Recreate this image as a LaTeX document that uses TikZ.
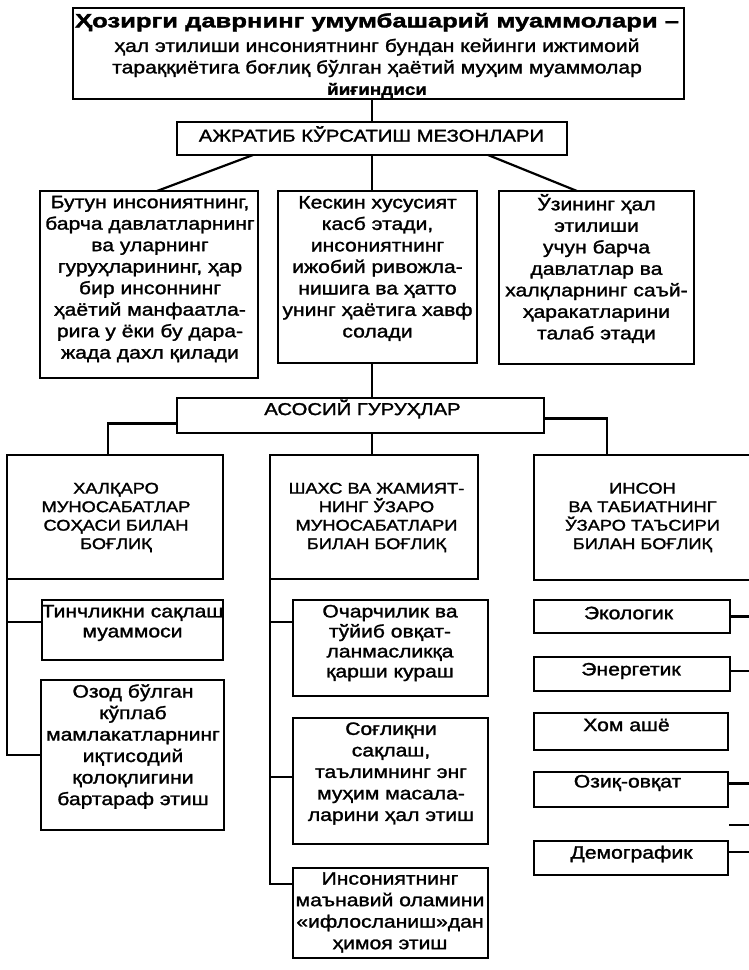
\documentclass[tikz,border=0pt]{standalone}
\usepackage{fontspec}
\setmainfont{Liberation Sans}[FakeStretch=1.18,FakeBold=1.5]
\newfontfamily\titlefont{Liberation Sans}[FakeStretch=1.32,FakeBold=1.8]
\newcommand\bodyfont{\fontsize{17.9pt}{21.5pt}\selectfont}
\newcommand\smallbody{\fontsize{17.9pt}{20pt}\selectfont}
\newcommand\capfont{\fontsize{17.2pt}{20pt}\selectfont}
\newcommand\grpfont{\fontsize{15.5pt}{18.5pt}\selectfont}
\newcommand\mybox[5]{\node[box, minimum width={(#4-#2)*1pt}, minimum height={(#5-#3)*1pt}] (#1) at ({(#2+#4)/2},{(#3+#5)/2}) {};}
\begin{document}
\begin{tikzpicture}[x=1pt,y=-1pt,
  box/.style={draw,line width=2.2pt,inner sep=0pt,outer sep=0pt},
  txt/.style={align=center,inner sep=0pt,font=\bodyfont},
  captxt/.style={align=center,inner sep=0pt,font=\capfont},
  grptxt/.style={align=center,inner sep=0pt,font=\grpfont},
  conn/.style={line width=2.2pt}]
\useasboundingbox (0,0) rectangle (749,970);
\fill[white] (0,0) rectangle (749,970);
\clip (0,0) rectangle (749,970);
% boxes
\mybox{top}{73}{8}{684}{99}
\mybox{b2}{177}{122}{567}{155}
\mybox{lb}{40}{191}{258}{378}
\mybox{mb}{278}{191}{477}{363}
\mybox{rb}{499}{191}{694}{364}
\mybox{as}{177}{398}{544}{433}
\mybox{g1}{7}{455}{223}{579}
\mybox{g2}{270}{455}{478}{579}
\mybox{g3}{534}{455}{770}{580}
\mybox{l1}{42}{600}{223}{660}
\mybox{l2}{41}{680}{224}{830}
\mybox{m1}{293}{600}{488}{696}
\mybox{m2}{293}{718}{488}{844}
\mybox{m3}{293}{868}{488}{958}
\mybox{r1}{534}{600}{730}{633}
\mybox{r2}{534}{657}{730}{691}
\mybox{r3}{534}{713}{728}{750}
\mybox{r4}{534}{772}{728}{807}
\mybox{r5}{534}{841}{728}{875}
% texts
\node[txt] (ttl) at (377,55.5) {{\titlefont\bfseries\fontsize{19.4pt}{23pt}\selectfont Ҳозирги даврнинг умумбашарий муаммолари –}\\[3pt]
ҳал этилиши инсониятнинг бундан кейинги ижтимоий\\
тараққиётига боғлиқ бўлган ҳаётий муҳим муаммолар\\
{\bfseries\fontsize{16pt}{20pt}\selectfont йиғиндиси}};
\node[captxt] (b2t) at (371.5,134) {АЖРАТИБ КЎРСАТИШ МЕЗОНЛАРИ};
\node[txt] (lbt) at (150,279) {Бутун инсониятнинг,\\барча давлатларнинг\\ва уларнинг\\гуруҳларининг, ҳар\\бир инсоннинг\\ҳаётий манфаатла-\\рига у ёки бу дара-\\жада дахл қилади};
\node[txt] (mbt) at (377.5,268.5) {Кескин хусусият\\касб этади,\\инсониятнинг\\ижобий ривожла-\\нишига ва ҳатто\\унинг ҳаётига хавф\\солади};
\node[txt] (rbt) at (596.5,268.5) {Ўзининг ҳал\\этилиши\\учун барча\\давлатлар ва\\халқларнинг саъй-\\ҳаракатларини\\талаб этади};
\node[captxt] (ast) at (362.5,409) {АСОСИЙ ГУРУҲЛАР};
\node[grptxt] (g1t) at (116,517.5) {ХАЛҚАРО\\МУНОСАБАТЛАР\\СОҲАСИ БИЛАН\\БОҒЛИҚ};
\node[grptxt] (g2t) at (376.5,517.5) {ШАХС ВА ЖАМИЯТ-\\НИНГ ЎЗАРО\\МУНОСАБАТЛАРИ\\БИЛАН БОҒЛИҚ};
\node[grptxt] (g3t) at (642.5,517.5) {ИНСОН\\ВА ТАБИАТНИНГ\\ЎЗАРО ТАЪСИРИ\\БИЛАН БОҒЛИҚ};
\node[txt,font=\smallbody] (l1t) at (132.5,623) {Тинчликни сақлаш\\муаммоси};
\node[txt] (l2t) at (133,746.5) {Озод бўлган\\кўплаб\\мамлакатларнинг\\иқтисодий\\қолоқлигини\\бартараф этиш};
\node[txt,font=\smallbody] (m1t) at (390,643) {Очарчилик ва\\тўйиб овқат-\\ланмасликқа\\қарши кураш};
\node[txt] (m2t) at (391,773.5) {Соғлиқни\\сақлаш,\\таълимнинг энг\\муҳим масала-\\ларини ҳал этиш};
\node[txt] (m3t) at (390,912.5) {Инсониятнинг\\маънавий оламини\\«ифлосланиш»дан\\ҳимоя этиш};
\node[txt] (r1t) at (628.5,613) {Экологик};
\node[txt] (r2t) at (631,671) {Энергетик};
\node[txt] (r3t) at (626.5,725) {Хом ашё};
\node[txt] (r4t) at (627.5,783) {Озиқ-овқат};
\node[txt] (r5t) at (631.5,854) {Демографик};
% connectors
\draw[conn] (top.south -| b2.center) -- (b2.north);
\draw[conn] ([xshift=76pt]b2.south west) -- ([xshift=117pt]lb.north west);
\draw[conn] ([xshift=-79pt]b2.south east) -- ([xshift=78pt]rb.north west);
\draw[conn] (b2.south) -- (b2.south |- mb.north);
\draw[conn] (b2.south |- mb.south) -- (b2.south |- as.north);
\draw[conn] ([yshift=-8pt]as.west) -| ([xshift=-7pt]g1.north);
\draw[conn] ([yshift=-3pt]as.east) -| ([xshift=-45pt]g3.north);
\draw[conn] (b2.south |- as.south) -- (b2.south |- g2.north);
% left bus
\draw[conn] (g1.south west) |- (l2.west);
\coordinate (l1c) at ([yshift=8pt]l1.west);
\draw[conn] (l1c) -- (l1c -| g1.south west);
% middle bus
\coordinate (m3c) at ([yshift=29pt]m3.west);
\draw[conn] (g2.south west) |- (m3c);
\coordinate (m1c) at ([yshift=26pt]m1.west);
\draw[conn] (m1c) -- (m1c -| g2.south west);
\coordinate (m2c) at ([yshift=4pt]m2.west);
\draw[conn] (m2c) -- (m2c -| g2.south west);
% right side
\coordinate (redge) at (760,0);
\draw[conn] (r1.east) -- (r1.east -| redge);
\coordinate (r2c) at ([yshift=3pt]r2.east);
\draw[conn] (r2c) -- (r2c -| redge);
\coordinate (r4c) at ([yshift=6pt]r4.east);
\draw[conn] (r4c) -- (r4c -| redge);
\coordinate (r5c) at ([yshift=6pt]r5.east);
\draw[conn] (r5c) -- (r5c -| redge);
\coordinate (stub) at (729,825);
\draw[conn] (stub) -- (stub -| redge);
\end{tikzpicture}
\end{document}
